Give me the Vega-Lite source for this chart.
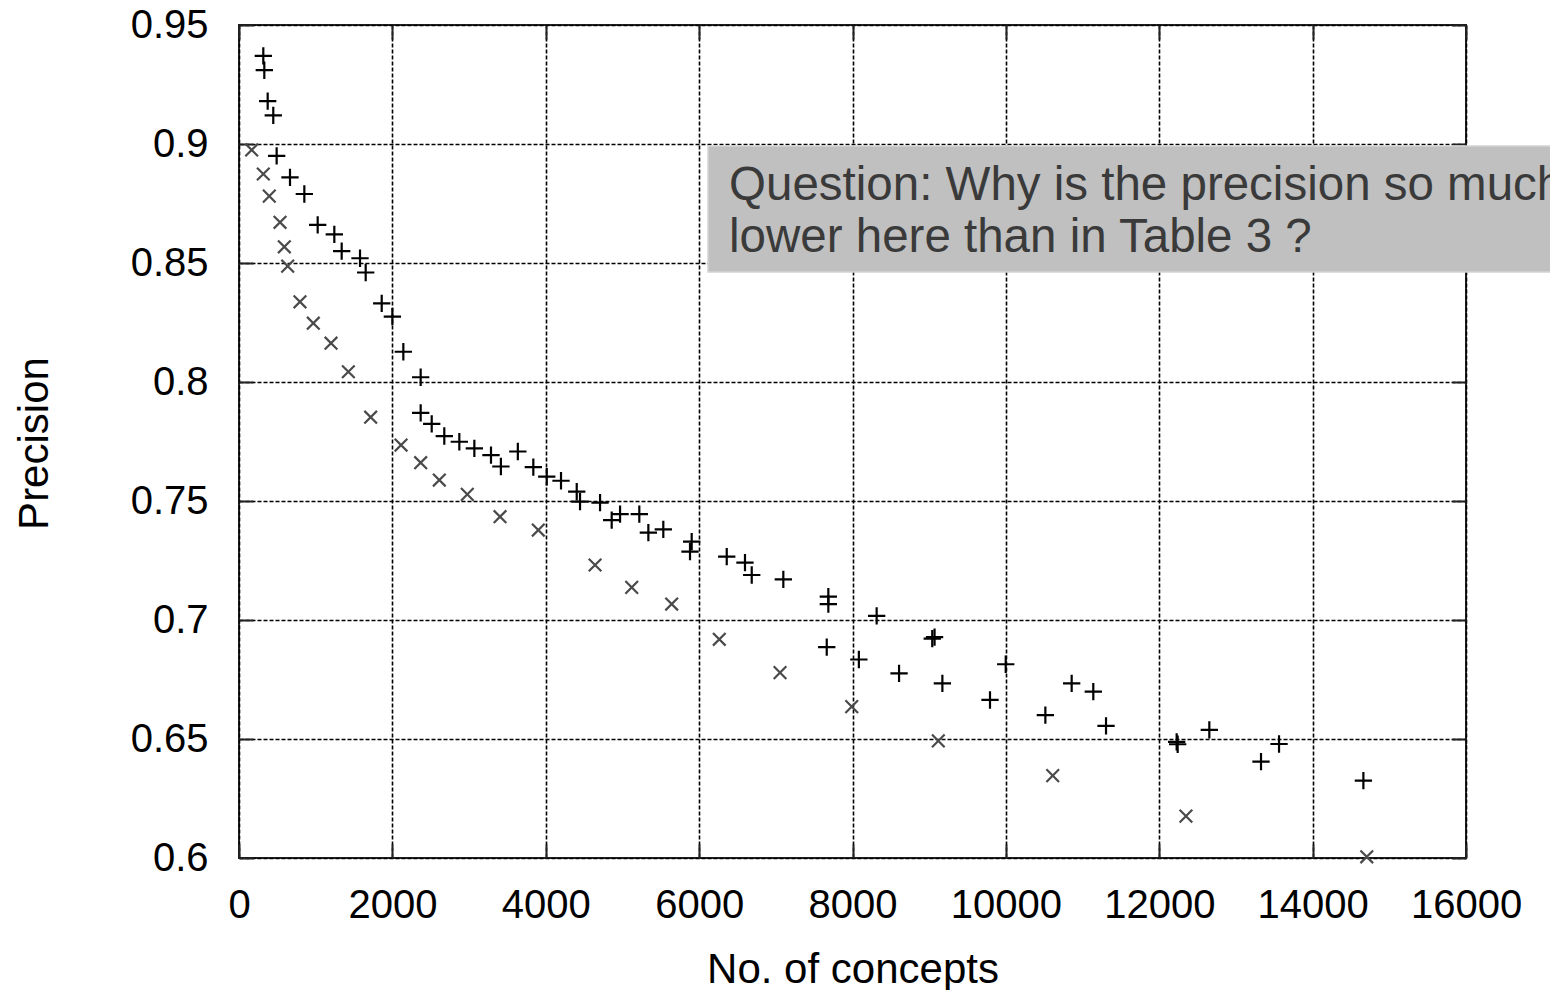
{
  "$schema": "https://vega.github.io/schema/vega-lite/v6.json",
  "width": 1227,
  "height": 833,
  "autosize": {"type": "none"},
  "padding": {"left": 239, "top": 25, "right": 84, "bottom": 132},
  "background": "white",
  "config": {
    "view": {"stroke": "#222", "strokeWidth": 2},
    "font": "Liberation Sans"
  },
  "datasets": {
    "pts": [
      {"concepts": 317, "precision": 0.937, "series": "plus"},
      {"concepts": 330, "precision": 0.931, "series": "plus"},
      {"concepts": 374, "precision": 0.918, "series": "plus"},
      {"concepts": 447, "precision": 0.912, "series": "plus"},
      {"concepts": 491, "precision": 0.895, "series": "plus"},
      {"concepts": 665, "precision": 0.886, "series": "plus"},
      {"concepts": 852, "precision": 0.879, "series": "plus"},
      {"concepts": 1026, "precision": 0.866, "series": "plus"},
      {"concepts": 1243, "precision": 0.862, "series": "plus"},
      {"concepts": 1339, "precision": 0.855, "series": "plus"},
      {"concepts": 1578, "precision": 0.852, "series": "plus"},
      {"concepts": 1652, "precision": 0.846, "series": "plus"},
      {"concepts": 1861, "precision": 0.833, "series": "plus"},
      {"concepts": 2000, "precision": 0.8275, "series": "plus"},
      {"concepts": 2143, "precision": 0.8127, "series": "plus"},
      {"concepts": 2369, "precision": 0.802, "series": "plus"},
      {"concepts": 2369, "precision": 0.787, "series": "plus"},
      {"concepts": 2513, "precision": 0.7824, "series": "plus"},
      {"concepts": 2677, "precision": 0.7773, "series": "plus"},
      {"concepts": 2873, "precision": 0.7749, "series": "plus"},
      {"concepts": 3069, "precision": 0.7721, "series": "plus"},
      {"concepts": 3286, "precision": 0.7693, "series": "plus"},
      {"concepts": 3415, "precision": 0.7645, "series": "plus"},
      {"concepts": 3636, "precision": 0.7708, "series": "plus"},
      {"concepts": 3838, "precision": 0.7642, "series": "plus"},
      {"concepts": 4013, "precision": 0.7602, "series": "plus"},
      {"concepts": 4199, "precision": 0.7585, "series": "plus"},
      {"concepts": 4404, "precision": 0.7539, "series": "plus"},
      {"concepts": 4447, "precision": 0.7497, "series": "plus"},
      {"concepts": 4708, "precision": 0.7493, "series": "plus"},
      {"concepts": 4860, "precision": 0.742, "series": "plus"},
      {"concepts": 4969, "precision": 0.7445, "series": "plus"},
      {"concepts": 5220, "precision": 0.7445, "series": "plus"},
      {"concepts": 5338, "precision": 0.7367, "series": "plus"},
      {"concepts": 5533, "precision": 0.7381, "series": "plus"},
      {"concepts": 5903, "precision": 0.7329, "series": "plus"},
      {"concepts": 5881, "precision": 0.7287, "series": "plus"},
      {"concepts": 6360, "precision": 0.7266, "series": "plus"},
      {"concepts": 6598, "precision": 0.7241, "series": "plus"},
      {"concepts": 6686, "precision": 0.7189, "series": "plus"},
      {"concepts": 7098, "precision": 0.7171, "series": "plus"},
      {"concepts": 7685, "precision": 0.7098, "series": "plus"},
      {"concepts": 7685, "precision": 0.7067, "series": "plus"},
      {"concepts": 8315, "precision": 0.7017, "series": "plus"},
      {"concepts": 7664, "precision": 0.6886, "series": "plus"},
      {"concepts": 8083, "precision": 0.6834, "series": "plus"},
      {"concepts": 9040, "precision": 0.6922, "series": "plus"},
      {"concepts": 9070, "precision": 0.6928, "series": "plus"},
      {"concepts": 8607, "precision": 0.6776, "series": "plus"},
      {"concepts": 9172, "precision": 0.6734, "series": "plus"},
      {"concepts": 9998, "precision": 0.6814, "series": "plus"},
      {"concepts": 9793, "precision": 0.6664, "series": "plus"},
      {"concepts": 10515, "precision": 0.66, "series": "plus"},
      {"concepts": 10858, "precision": 0.6734, "series": "plus"},
      {"concepts": 11140, "precision": 0.6699, "series": "plus"},
      {"concepts": 11306, "precision": 0.6555, "series": "plus"},
      {"concepts": 12227, "precision": 0.6488, "series": "plus"},
      {"concepts": 12240, "precision": 0.6478, "series": "plus"},
      {"concepts": 12653, "precision": 0.6538, "series": "plus"},
      {"concepts": 13327, "precision": 0.6405, "series": "plus"},
      {"concepts": 13562, "precision": 0.6479, "series": "plus"},
      {"concepts": 14662, "precision": 0.6325, "series": "plus"},
      {"concepts": 165, "precision": 0.8975, "series": "cross"},
      {"concepts": 317, "precision": 0.8874, "series": "cross"},
      {"concepts": 395, "precision": 0.8781, "series": "cross"},
      {"concepts": 535, "precision": 0.8671, "series": "cross"},
      {"concepts": 591, "precision": 0.8568, "series": "cross"},
      {"concepts": 635, "precision": 0.8487, "series": "cross"},
      {"concepts": 795, "precision": 0.8337, "series": "cross"},
      {"concepts": 969, "precision": 0.8247, "series": "cross"},
      {"concepts": 1200, "precision": 0.8163, "series": "cross"},
      {"concepts": 1426, "precision": 0.8043, "series": "cross"},
      {"concepts": 1717, "precision": 0.7852, "series": "cross"},
      {"concepts": 2113, "precision": 0.7735, "series": "cross"},
      {"concepts": 2369, "precision": 0.7661, "series": "cross"},
      {"concepts": 2612, "precision": 0.7588, "series": "cross"},
      {"concepts": 2977, "precision": 0.7528, "series": "cross"},
      {"concepts": 3404, "precision": 0.7434, "series": "cross"},
      {"concepts": 3903, "precision": 0.7378, "series": "cross"},
      {"concepts": 4643, "precision": 0.7231, "series": "cross"},
      {"concepts": 5121, "precision": 0.7137, "series": "cross"},
      {"concepts": 5642, "precision": 0.7067, "series": "cross"},
      {"concepts": 6263, "precision": 0.6919, "series": "cross"},
      {"concepts": 7055, "precision": 0.6779, "series": "cross"},
      {"concepts": 7990, "precision": 0.6636, "series": "cross"},
      {"concepts": 9119, "precision": 0.6492, "series": "cross"},
      {"concepts": 10611, "precision": 0.6346, "series": "cross"},
      {"concepts": 12348, "precision": 0.6176, "series": "cross"},
      {"concepts": 14706, "precision": 0.6005, "series": "cross"}
    ],
    "note": [{"x1": 6116, "x2": 17300, "y1": 0.8992, "y2": 0.8462}],
    "lines": [
      {"x": 6390, "y": 0.8765, "label": "Question: Why is the precision so much"},
      {"x": 6390, "y": 0.8546, "label": "lower here than in Table 3 ?"}
    ]
  },
  "resolve": {"axis": {"x": "independent", "y": "independent"}},
  "layer": [
    {
      "data": {"name": "pts"},
      "transform": [{"filter": "datum.series === 'plus'"}],
      "mark": {"type": "point", "shape": "M-1,0L1,0M0,-1L0,1", "filled": false, "size": 300, "color": "#000", "strokeWidth": 2.2, "opacity": 1},
      "encoding": {
        "x": {
          "field": "concepts", "type": "quantitative",
          "scale": {"domain": [0, 16000], "nice": false, "zero": false},
          "axis": {
            "orient": "bottom",
            "values": [0, 2000, 4000, 6000, 8000, 10000, 12000, 14000, 16000],
            "format": "d",
            "grid": true, "gridColor": "#000", "gridDash": [4, 2], "gridWidth": 1.6, "gridOpacity": 1,
            "domain": false,
            "tickColor": "#222", "tickSize": -14, "tickWidth": 2,
            "labelFontSize": 40, "labelColor": "#000", "labelPadding": 41, "labelFlush": false, "labelOverlap": false, "labelBound": false,
            "title": "No. of concepts", "titleFontSize": 42, "titleFontWeight": "normal", "titleColor": "#000",
            "titleY": 124, "titleBaseline": "alphabetic"
          }
        },
        "y": {
          "field": "precision", "type": "quantitative",
          "scale": {"domain": [0.6, 0.95], "nice": false, "zero": false},
          "axis": {
            "orient": "left",
            "values": [0.6, 0.65, 0.7, 0.75, 0.8, 0.85, 0.9, 0.95],
            "format": "~g",
            "grid": true, "gridColor": "#000", "gridDash": [4, 2], "gridWidth": 1.6, "gridOpacity": 1,
            "domain": false,
            "tickColor": "#222", "tickSize": -14, "tickWidth": 2,
            "labelFontSize": 40, "labelColor": "#000", "labelPadding": 45, "labelFlush": false, "labelOverlap": false, "labelBound": false,
            "title": "Precision", "titleFontSize": 42, "titleFontWeight": "normal", "titleColor": "#000",
            "titleX": -192, "titleY": 418, "titleBaseline": "alphabetic", "titleAlign": "center", "titleAngle": -90
          }
        }
      }
    },
    {
      "data": {"name": "pts"},
      "transform": [{"filter": "datum.series === 'plus'"}],
      "mark": {"type": "point", "opacity": 0},
      "encoding": {
        "x": {
          "field": "concepts", "type": "quantitative",
          "axis": {
            "orient": "top", "values": [0, 2000, 4000, 6000, 8000, 10000, 12000, 14000, 16000],
            "labels": false, "grid": false, "domain": false, "title": null,
            "tickColor": "#222", "tickSize": -14, "tickWidth": 2
          }
        },
        "y": {
          "field": "precision", "type": "quantitative",
          "axis": {
            "orient": "right", "values": [0.6, 0.65, 0.7, 0.75, 0.8, 0.85, 0.9, 0.95],
            "labels": false, "grid": false, "domain": false, "title": null,
            "tickColor": "#222", "tickSize": -14, "tickWidth": 2
          }
        }
      }
    },
    {
      "data": {"name": "pts"},
      "transform": [{"filter": "datum.series === 'cross'"}],
      "mark": {"type": "point", "shape": "M-1,-1L1,1M-1,1L1,-1", "filled": false, "size": 160, "color": "#4a4a4a", "strokeWidth": 2.2, "opacity": 1},
      "encoding": {
        "x": {"field": "concepts", "type": "quantitative", "axis": null},
        "y": {"field": "precision", "type": "quantitative", "axis": null}
      }
    },
    {
      "data": {"name": "note"},
      "mark": {"type": "rect", "fill": "#c0c0c0", "stroke": "#d4d4d4", "strokeWidth": 1.5, "clip": false},
      "encoding": {
        "x": {"field": "x1", "type": "quantitative", "axis": null},
        "x2": {"field": "x2"},
        "y": {"field": "y1", "type": "quantitative", "axis": null},
        "y2": {"field": "y2"}
      }
    },
    {
      "data": {"name": "lines"},
      "mark": {"type": "text", "align": "left", "baseline": "alphabetic", "fontSize": 47.5, "color": "#3a3a3a", "font": "Liberation Sans"},
      "encoding": {
        "x": {"field": "x", "type": "quantitative", "axis": null},
        "y": {"field": "y", "type": "quantitative", "axis": null},
        "text": {"field": "label"}
      }
    }
  ]
}
